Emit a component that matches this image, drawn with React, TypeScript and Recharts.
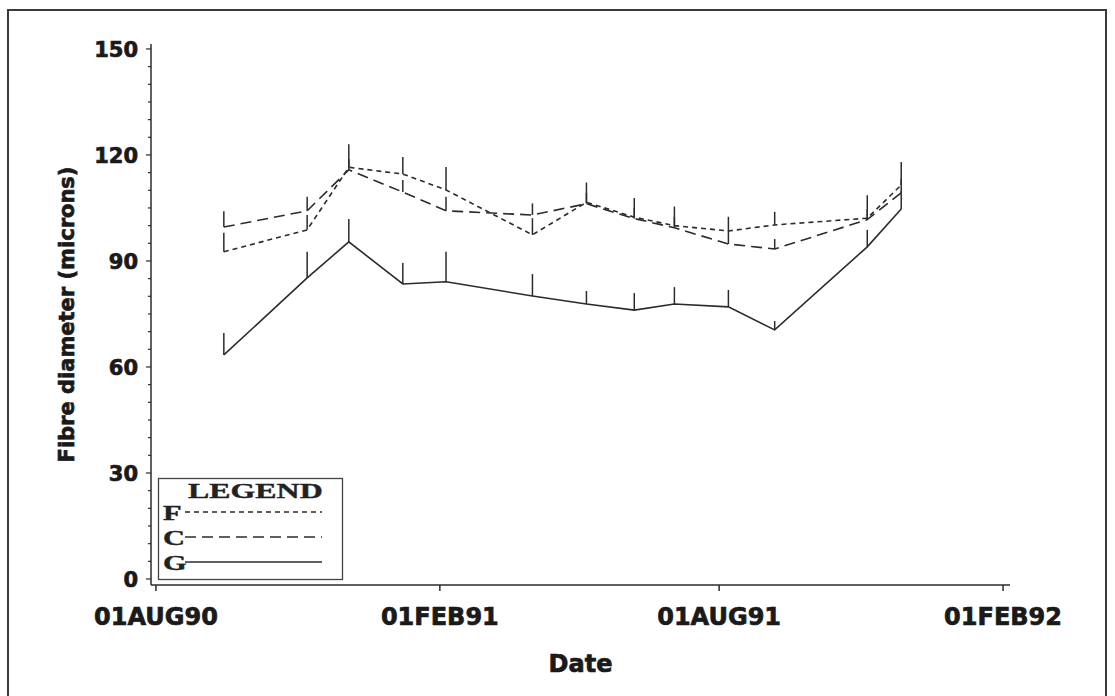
import React from 'react';
import { LineChart, Line, XAxis, YAxis, ErrorBar } from 'recharts';

// sampling dates and mean fibre diameter per treatment (microns)
const origin = '1990-08-01';
const sampleDates = [
  '1990-09-14', '1990-11-07', '1990-12-04', '1991-01-08', '1991-02-05',
  '1991-04-02', '1991-05-07', '1991-06-07', '1991-07-03', '1991-08-07',
  '1991-09-06', '1991-11-05', '1991-11-27',
];
const seriesF = [92.6, 98.8, 116.5, 114.6, 110.1, 97.4, 106.6, 102.4, 100.0, 98.5, 100.2, 102.1, 111.5];
const seriesC = [99.6, 104.2, 115.8, 109.5, 104.2, 103.0, 106.2, 102.0, 99.4, 94.8, 93.4, 101.7, 109.3];
const seriesG = [63.4, 85.2, 95.4, 83.5, 84.1, 80.1, 77.8, 76.1, 77.8, 77.0, 70.5, 94.0, 104.7];
// upper standard error
const errF = [5.4, 4.2, 6.5, 4.8, 6.5, 4.7, 5.6, 5.4, 5.4, 4.0, 3.7, 6.5, 6.5];
const errC = [4.5, 4.0, 3.0, 3.4, 4.0, 3.3, 3.0, 3.0, 3.0, 3.7, 2.8, 3.0, 4.0];
const errG = [6.2, 7.4, 6.5, 5.9, 8.5, 6.2, 3.7, 4.8, 4.8, 4.8, 2.5, 4.8, 5.0];

const xTickDates = ['1990-08-01', '1991-02-01', '1991-08-01', '1992-02-01'];
const xTickLabels = ['01AUG90', '01FEB91', '01AUG91', '01FEB92'];
const yMajorTicks = [0, 30, 60, 90, 120, 150];
const yMinorStep = 5;

const legendItems = [
  { name: 'F', dash: '5 4' },
  { name: 'C', dash: '11 6' },
  { name: 'G', dash: undefined },
];

const DAY = 86400000;
const dayOf = (s: string) => (Date.parse(s) - Date.parse(origin)) / DAY;

const data = sampleDates.map((d, i) => ({
  day: dayOf(d),
  F: seriesF[i],
  C: seriesC[i],
  G: seriesG[i],
  fErr: [0, errF[i]],
  cErr: [0, errC[i]],
  gErr: [0, errG[i]],
}));

const xTicks = xTickDates.map(dayOf);
const yTicks: number[] = [];
for (let v = 0; v <= yMajorTicks[yMajorTicks.length - 1]; v += yMinorStep) yTicks.push(v);

const INK = '#2b2b2b';
const TEXT = '#1a1a1a';
const SANS = "'DejaVu Sans', sans-serif";
const SERIF = "'Liberation Serif', serif";

// heavy label look
const heavy = { fontWeight: 'bold', fill: TEXT, stroke: TEXT, strokeWidth: 0.7, fontFamily: SANS };

const YTick = (props: any) => {
  const { x, y, payload } = props;
  const major = yMajorTicks.includes(payload.value);
  return (
    <g>
      <line x1={x - (major ? 5 : 3)} x2={x} y1={y} y2={y} stroke={INK} strokeWidth={1.2} />
      {major && (
        <text x={x - 13} y={y} dy="0.36em" textAnchor="end" fontSize={21} {...heavy}>
          {payload.value}
        </text>
      )}
    </g>
  );
};

const LegendBox = () => (
  <svg
    width={188}
    height={105}
    style={{ position: 'absolute', left: 157, top: 477 }}
  >
    <rect x={1.5} y={1.5} width={184} height={101} fill="#fff" stroke="#444" strokeWidth={1.3} />
    <text
      transform="translate(31,21) scale(1.45,1)"
      fontSize={22}
      fontWeight="bold"
      fontFamily={SERIF}
      fill="#222"
      stroke="#222"
      strokeWidth={0.4}
    >
      LEGEND
    </text>
    {legendItems.map((item, i) => {
      const base = 43 + i * 25;
      return (
        <g key={item.name}>
          <text
            transform={`translate(6,${base}) scale(1.45,1)`}
            fontSize={21}
            fontWeight="bold"
            fontFamily={SERIF}
            fill="#222"
            stroke="#222"
            strokeWidth={0.4}
          >
            {item.name}
          </text>
          <line
            x1={28}
            x2={165}
            y1={base - 8}
            y2={base - 8}
            stroke={INK}
            strokeWidth={1.4}
            strokeDasharray={item.dash}
          />
        </g>
      );
    })}
  </svg>
);

export default function App() {
  return (
    <div style={{ position: 'absolute', left: 0, top: 0, width: 1115, height: 696, background: '#fff', overflow: 'hidden' }}>
      <div
        style={{
          position: 'absolute',
          left: 7,
          top: 9,
          width: 1096,
          height: 720,
          border: '2px solid #3a3a3a',
          borderBottom: 'none',
        }}
      />
      <LineChart
        width={1115}
        height={696}
        data={data}
        margin={{ top: 44, right: 105, bottom: 71, left: 10 }}
      >
        <XAxis
          type="number"
          dataKey="day"
          domain={[-3.2, 553.5]}
          ticks={xTicks}
          interval={0}
          tickFormatter={(v: number) => xTickLabels[xTicks.indexOf(v)] ?? ''}
          height={40}
          stroke={INK}
          strokeWidth={1.5}
          tickSize={6}
          tickMargin={17}
          tick={{ fontSize: 24, ...heavy }}
          label={{
            value: 'Date',
            position: 'bottom',
            offset: 30,
            style: { fontSize: 24, ...heavy },
          }}
        />
        <YAxis
          type="number"
          domain={[-1.7, 151.4]}
          ticks={yTicks}
          interval={0}
          width={141}
          stroke={INK}
          strokeWidth={1.5}
          tickLine={false}
          tickSize={0}
          tickMargin={0}
          tick={YTick}
          label={{
            value: 'Fibre diameter (microns)',
            angle: -90,
            position: 'insideLeft',
            offset: 57,
            style: { textAnchor: 'middle', fontSize: 21, ...heavy },
          }}
        />
        <Line
          type="linear"
          dataKey="F"
          stroke={INK}
          strokeWidth={1.6}
          strokeDasharray="5 4"
          dot={false}
          isAnimationActive={false}
        >
          <ErrorBar dataKey="fErr" direction="y" width={0} stroke={INK} strokeWidth={1.5} />
        </Line>
        <Line
          type="linear"
          dataKey="C"
          stroke={INK}
          strokeWidth={1.6}
          strokeDasharray="11 6"
          dot={false}
          isAnimationActive={false}
        >
          <ErrorBar dataKey="cErr" direction="y" width={0} stroke={INK} strokeWidth={1.5} />
        </Line>
        <Line
          type="linear"
          dataKey="G"
          stroke={INK}
          strokeWidth={1.6}
          dot={false}
          isAnimationActive={false}
        >
          <ErrorBar dataKey="gErr" direction="y" width={0} stroke={INK} strokeWidth={1.5} />
        </Line>
      </LineChart>
      <LegendBox />
    </div>
  );
}
